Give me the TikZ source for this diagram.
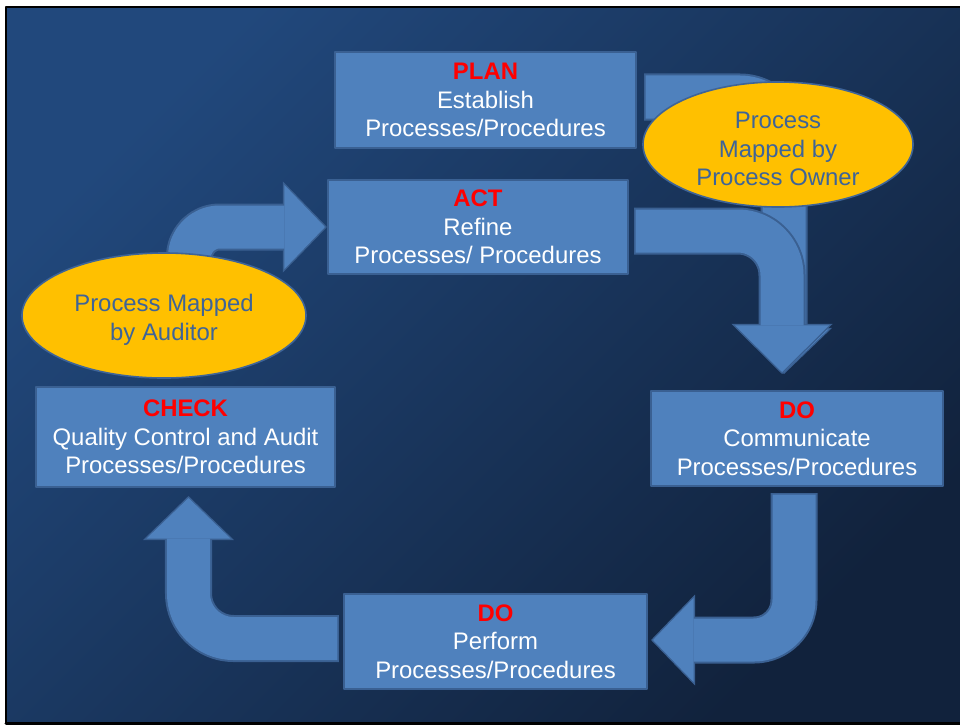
\documentclass[tikz,border=0pt]{standalone}
\usepackage{fontspec}
\setmainfont{Liberation Sans}
\usepackage{pgf,tikz}
\usetikzlibrary{arrows.meta,shapes.geometric,calc}
\definecolor{bgtop}{RGB}{33,72,124}
\definecolor{bgbot}{RGB}{17,34,60}
\definecolor{boxfill}{RGB}{79,129,189}
\definecolor{boxline}{RGB}{58,96,146}
\definecolor{ovalfill}{RGB}{255,192,0}
\definecolor{ovaltext}{RGB}{62,100,152}
\tikzset{
  stagebox/.style={rectangle,fill=boxfill,draw=boxline,line width=0.05cm,text=white,align=center,inner sep=0pt,font=\fontsize{17}{20.4}\selectfont},
  note/.style={ellipse,fill=ovalfill,draw=ovaltext,line width=0.04cm,text=ovaltext,align=center,inner sep=0pt,font=\fontsize{17}{20.4}\selectfont},
  arrowedge/.style={draw=boxline,line width=1.175cm,line cap=butt},
  arrowbody/.style={draw=boxfill,line width=1.075cm,line cap=butt,shorten <=0.04cm,shorten >=0.05cm},
}
\newcommand{\stage}[2]{\textcolor{red}{\textbf{#1}}\\#2}
\newcommand{\blockarrow}[4]{%
  \draw[arrowedge,rounded corners=#1,-{Triangle[#2,line width=0pt]}] #4;
  \draw[arrowbody,rounded corners=#1,-{Triangle[#3,line width=0pt]}] #4;}

\begin{document}
\begin{tikzpicture}[line cap=round,line join=round,x=0.025cm,y=-0.025cm]
\useasboundingbox (0,0) rectangle (960,725);
\fill[white] (0,0) rectangle (960,725);
\shade[top color=bgtop,bottom color=bgbot,shading angle=45] (6,7) rectangle (960,723);
\draw[line width=0.05cm] (6,723) -- (6,7) -- (960,7);
\draw[line width=0.075cm] (6,723.5) -- (960,723.5);

\draw (485.5,100) node[stagebox,minimum width=7.525cm,minimum height=2.4cm] (plan) {\stage{PLAN}{Establish\\Processes/Procedures}};
\draw (478,227) node[stagebox,minimum width=7.5cm,minimum height=2.35cm] (act) {\stage{ACT}{Refine\\Processes/ Procedures}};
\draw (797,438.5) node[stagebox,minimum width=7.3cm,minimum height=2.375cm] (doR) {\stage{DO}{Communicate\\Processes/Procedures}};
\draw (495.5,641.5) node[stagebox,minimum width=7.575cm,minimum height=2.375cm] (doB) {\stage{DO}{Perform\\Processes/Procedures}};
\draw (185.5,437) node[stagebox,minimum width=7.475cm,minimum height=2.5cm] (check) {\stage{CHECK}{Quality Control and Audit\\Processes/Procedures}};

\blockarrow{1.1cm}{length=1.15cm,width=2.4cm}{length=1.0625cm,width=2.225cm}{($(plan.east)+(7,-3)$) -| ($(doR.north)+(-13,-16)$)}
\blockarrow{1.1cm}{length=1.25cm,width=2.525cm}{length=1.1625cm,width=2.35cm}{($(act.east)+(5,4)$) -| ($(doR.north)+(-15,-16)$)}
\blockarrow{0.75cm}{length=1.1cm,width=2.275cm}{length=1.0125cm,width=2.1cm}{($(check.north)+(4,-50)$) |- (act.west)}
\blockarrow{1cm}{length=1.1cm,width=2.275cm}{length=1.0125cm,width=2.1cm}{($(doR.south)+(-3,6)$) |- ($(doB.east)+(3,-1.5)$)}
\blockarrow{1.125cm}{length=1.1cm,width=2.275cm}{length=1.0125cm,width=2.1cm}{($(doB.west)+(-4,-3)$) -| ($(check.south)+(3,8)$)}

\draw (778,144.5) node[note,minimum width=6.75cm,minimum height=3.125cm] (owner) {\rule{0pt}{18pt}Process\\Mapped by\\Process Owner};
\draw (164,315.5) node[note,minimum width=7.1cm,minimum height=3.125cm] (auditor) {\rule{0pt}{18pt}Process Mapped\\by Auditor};
\end{tikzpicture}
\end{document}
